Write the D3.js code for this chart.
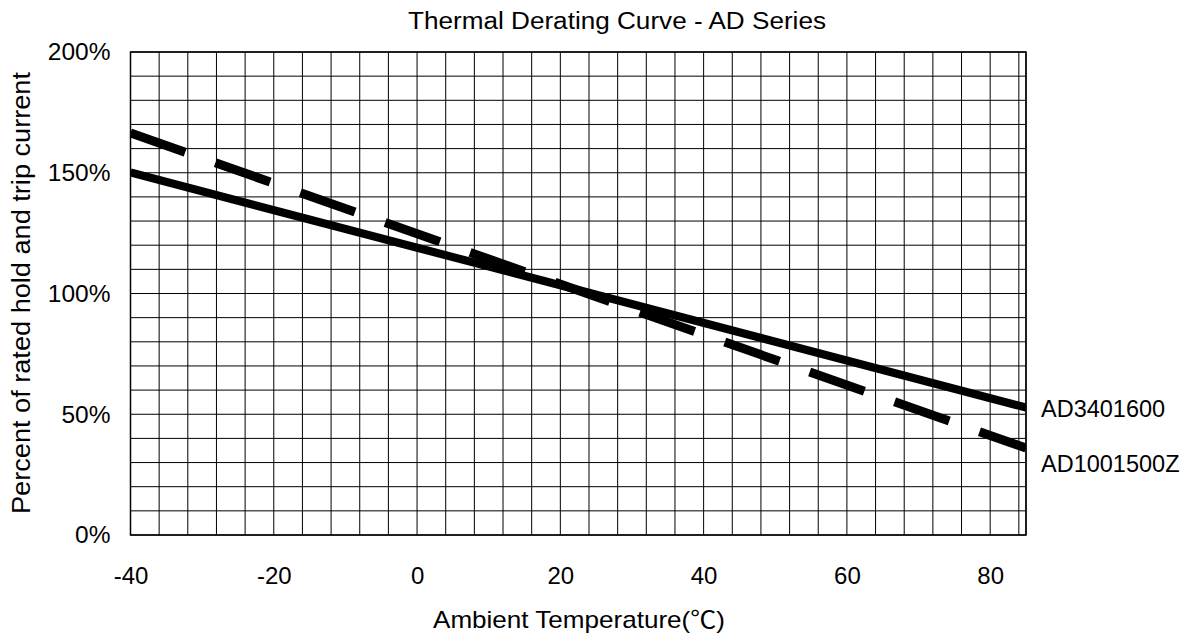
<!DOCTYPE html>
<html><head><meta charset="utf-8">
<script src="https://cdn.jsdelivr.net/npm/d3@7"></script>
<style>
body{margin:0;background:#fff}
text{font-family:"Liberation Sans",Arial,sans-serif;fill:#000}
</style></head>
<body><svg id="c" width="1201" height="639"></svg>
<script>
const temps = [-40, 85];
const seriesNames = ["AD3401600", "AD1001500Z"];
const solidValues = [150.1, 52.8];   // AD3401600
const dashedValues = [166.5, 36.0];  // AD1001500Z
const xTicks = [-40, -20, 0, 20, 40, 60, 80];
const yTicks = [0, 50, 100, 150, 200];
const xGridStep = 4, yGridStep = 10;
const title = "Thermal Derating Curve - AD Series";
const xTitle = "Ambient Temperature(";
const xTitleUnit = "℃";
const yTitle = "Percent of rated hold and trip current";

const svg = d3.select("#c");
const L = 130.5, R = 1026, T = 52, B = 535;
const x = d3.scaleLinear().domain([-40, 85]).range([L, R]);
const y = d3.scaleLinear().domain([0, 200]).range([B, T]);

const g = svg.append("g");
// grid
const xg = d3.range(-40, 85, xGridStep).concat([85]);
g.selectAll(".vx").data(xg).join("line")
  .attr("x1", d => x(d)).attr("x2", d => x(d)).attr("y1", T).attr("y2", B)
  .attr("stroke", "#000").attr("stroke-width", 1);
const yg = d3.range(0, 201, yGridStep);
g.selectAll(".hy").data(yg).join("line")
  .attr("x1", L).attr("x2", R).attr("y1", d => y(d)).attr("y2", d => y(d))
  .attr("stroke", "#000").attr("stroke-width", 1);
g.append("rect").attr("x", L).attr("y", T).attr("width", R - L).attr("height", B - T)
  .attr("fill", "none").attr("stroke", "#000").attr("stroke-width", 1.5);

// axes (labels only)
const xAxis = d3.axisBottom(x).tickValues(xTicks).tickSize(0).tickFormat(d => String(d));
const xa = svg.append("g").attr("transform", `translate(0,${B})`).call(xAxis);
xa.select(".domain").remove();
xa.selectAll("text").attr("font-size", 24).attr("font-family", "Liberation Sans")
  .attr("fill", "#000").attr("y", 48.5).attr("dy", 0);

const yAxis = d3.axisLeft(y).tickValues(yTicks).tickSize(0).tickPadding(20).tickFormat(d => d + "%");
const ya = svg.append("g").attr("transform", `translate(${L},0)`).call(yAxis);
ya.select(".domain").remove();
ya.selectAll("text").attr("font-size", 24.5).attr("font-family", "Liberation Sans").attr("fill", "#000");

// lines
svg.append("clipPath").attr("id", "pc").append("rect")
  .attr("x", L).attr("y", T).attr("width", R - L).attr("height", B - T);
const line = d3.line().x(d => x(d[0])).y(d => y(d[1]));
svg.append("path").datum(temps.map((t, i) => [t, dashedValues[i]]))
  .attr("d", line).attr("fill", "none").attr("stroke", "#000")
  .attr("stroke-width", 9).attr("stroke-dasharray", "58,32").attr("clip-path", "url(#pc)");
svg.append("path").datum(temps.map((t, i) => [t, solidValues[i]]))
  .attr("d", line).attr("fill", "none").attr("stroke", "#000")
  .attr("stroke-width", 8.2).attr("clip-path", "url(#pc)");

// series labels
svg.append("text").attr("x", 1041).attr("y", 417).attr("font-size", 23.5).text(seriesNames[0]);
svg.append("text").attr("x", 1041).attr("y", 471.5).attr("font-size", 23.5).text(seriesNames[1]);

// titles
svg.append("text").attr("x", 408).attr("y", 29).attr("font-size", 23.5)
  .attr("textLength", 418).attr("lengthAdjust", "spacingAndGlyphs").text(title);
const xt = svg.append("text").attr("x", 433).attr("y", 628).attr("font-size", 24)
  .attr("textLength", 292).attr("lengthAdjust", "spacingAndGlyphs");
xt.append("tspan").text(xTitle);
xt.append("tspan").attr("font-family", "Noto Sans CJK JP").text(xTitleUnit);
xt.append("tspan").text(")");
svg.append("text").attr("transform", "translate(30,514) rotate(-90)").attr("font-size", 26)
  .attr("textLength", 442).attr("lengthAdjust", "spacingAndGlyphs").text(yTitle);
</script></body></html>
